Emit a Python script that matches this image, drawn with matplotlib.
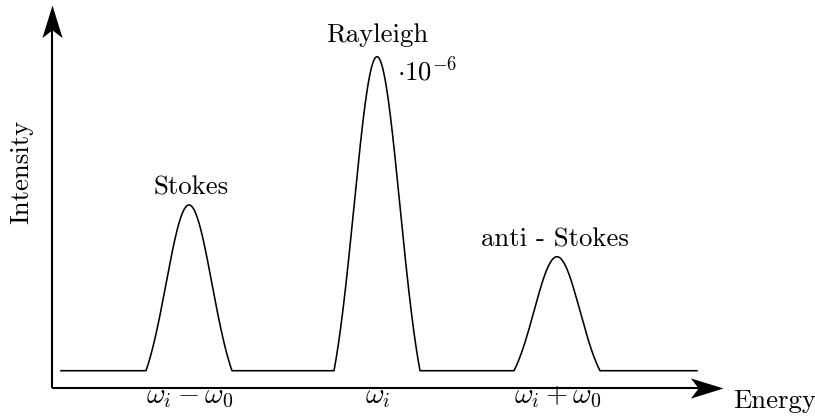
import matplotlib.pyplot as plt
import numpy as np
from matplotlib.path import Path

plt.rcParams['font.family'] = 'serif'
plt.rcParams['font.serif'] = ['cmr10']
plt.rcParams['mathtext.fontset'] = 'cm'
plt.rcParams['axes.formatter.use_mathtext'] = True

# peaks of the spectrum (energy in arbitrary units, intensity relative to Rayleigh)
peak_names = ['Stokes', 'Rayleigh', 'anti - Stokes']
peak_center = [189, 377, 557]
peak_height = [0.528, 1.0, 0.363]
peak_halfbase = 43
tick_labels = [r'$\omega_i - \omega_0$', r'$\omega_i$', r'$\omega_i + \omega_0$']
energy_range = [61, 697]


def bump(d, w, s=23.0):
    # gaussian cut at +-w and shifted so it meets the baseline
    g = np.exp(-d**2 / (2 * s**2))
    g0 = np.exp(-w**2 / (2 * s**2))
    return np.where(np.abs(d) < w, (g - g0) / (1 - g0), 0.0)


x = np.linspace(energy_range[0], energy_range[1], 4000)
y = np.zeros_like(x)
for c, h in zip(peak_center, peak_height):
    y += h * bump(x - c, peak_halfbase)

fig = plt.figure(figsize=(8.15, 4.18), dpi=100)
ax = fig.add_axes([0, 0, 1, 1])
ax.set_xlim(0, 815)
ax.set_ylim(-0.1506, 1.1806)
ax.axis('off')

ax.plot(x, y, color='black', lw=1.15, solid_joinstyle='round')

# axes with stealth arrow heads
x0, y0 = 51.7, -0.056
x_tip, y_tip = 723, 1.1646
ax.plot([x0, x_tip - 20], [y0, y0], color='black', lw=1.5, solid_capstyle='butt')
ax.plot([x0, x0], [y0, y_tip - 0.06], color='black', lw=1.5, solid_capstyle='butt')
head_r = Path([(0, 0), (-1, 0.31), (-0.76, 0), (-1, -0.31), (0, 0)],
              [Path.MOVETO, Path.LINETO, Path.LINETO, Path.LINETO, Path.CLOSEPOLY])
head_u = Path([(0, 0), (-0.31, -1), (0, -0.76), (0.31, -1), (0, 0)],
              [Path.MOVETO, Path.LINETO, Path.LINETO, Path.LINETO, Path.CLOSEPOLY])
ax.plot([x_tip], [y0], marker=head_r, markersize=47, color='black', mew=0)
ax.plot([x0], [y_tip], marker=head_u, markersize=47, color='black', mew=0)

fs = 19.3
label_y = [0.5596, 1.0478, 0.3949]
label_x = [191, 377, 555]
for name, lx, ly in zip(peak_names, label_x, label_y):
    ax.text(lx, ly, name, ha='center', va='baseline', fontsize=fs)
ax.text(397, 0.9258, r'$\cdot 10^{-6}$', ha='left', va='baseline', fontsize=fs)

for c, lab in zip(peak_center, tick_labels):
    ax.text(c + 1, -0.1029, lab, ha='center', va='baseline', fontsize=20.5)

ax.text(733, -0.1197, 'Energy', ha='left', va='baseline', fontsize=fs)
ax.text(28.3, 0.6338, 'Intensity', rotation=90, rotation_mode='anchor',
        ha='center', va='baseline', fontsize=fs)

fig.savefig('out.png', dpi=100)
